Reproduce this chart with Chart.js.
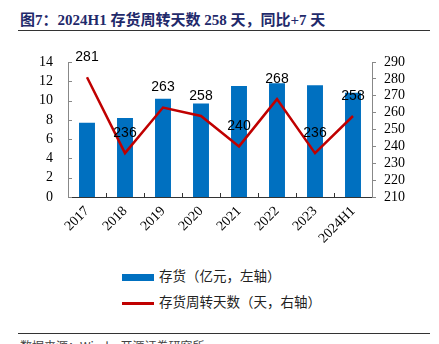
<!DOCTYPE html>
<html>
<head>
<meta charset="utf-8">
<script src="https://cdn.jsdelivr.net/npm/chart.js@4.4.1/dist/chart.umd.min.js"></script>
<style>
  html, body { margin: 0; padding: 0; background: #fff; }
  body { width: 439px; height: 344px; position: relative; overflow: hidden; }
  #title {
    position: absolute; left: 20px; top: 8px;
    font: bold 15px "Liberation Serif", "Noto Sans CJK SC", serif;
    color: #1f2a6b; white-space: nowrap;
  }
  .rule { position: absolute; left: 18px; width: 412px; height: 1px; background: #333; }
  #chartBox { position: absolute; left: 0; top: 35px; width: 439px; height: 230px; }
  .legend { position: absolute; left: 122px; font: 13.5px "Noto Sans CJK SC", sans-serif; color: #222; white-space: nowrap; }
  .legend span.sw { display: inline-block; width: 32px; vertical-align: middle; margin-right: 5px; }
  #source { position: absolute; left: 20px; top: 337px; font: 12px "Noto Sans CJK SC", sans-serif; color: #444; }
</style>
</head>
<body>
<div id="title">图7：2024H1 存货周转天数 258 天，同比+7 天</div>
<div class="rule" style="top:30px"></div>
<div id="chartBox"><canvas id="chart" width="439" height="230"></canvas></div>
<div class="legend" style="top:265px"><span class="sw" style="height:7px;background:#0070C0"></span>存货（亿元，左轴）</div>
<div class="legend" style="top:291px"><span class="sw" style="height:3px;background:#C00000"></span>存货周转天数（天，右轴）</div>
<div class="rule" style="top:333px"></div>
<div id="source">数据来源：Wind，开源证券研究所</div>

<script>
const categories = ['2017', '2018', '2019', '2020', '2021', '2022', '2023', '2024H1'];
const inventory = [7.7, 8.2, 10.2, 9.7, 11.5, 11.8, 11.6, 10.8];
const turnoverDays = [281, 236, 263, 258, 240, 268, 236, 258];
const leftTicks = [0, 2, 4, 6, 8, 10, 12, 14];
const rightTicks = [210, 220, 230, 240, 250, 260, 270, 280, 290];

const serifFont = { family: '"Liberation Serif", "Times New Roman", serif', size: 14 };

// inward tick marks on the left axis and bottom axis, plus labels above the line
const extras = {
  id: 'extras',
  afterDatasetsDraw(chart) {
    const ctx = chart.ctx;
    const area = chart.chartArea;
    const yL = chart.scales.y;
    ctx.save();
    ctx.strokeStyle = '#888';
    ctx.lineWidth = 1;
    leftTicks.forEach(v => {
      const py = Math.round(yL.getPixelForValue(v)) + 0.5;
      ctx.beginPath();
      ctx.moveTo(area.left, py);
      ctx.lineTo(area.left + 4, py);
      ctx.stroke();
    });
    ctx.strokeStyle = '#333';
    const step = (area.right - area.left) / categories.length;
    for (let i = 1; i < categories.length; i++) {
      const px = Math.round(area.left + i * step) + 0.5;
      ctx.beginPath();
      ctx.moveTo(px, area.bottom);
      ctx.lineTo(px, area.bottom - 4);
      ctx.stroke();
    }
    const meta = chart.getDatasetMeta(1);
    ctx.fillStyle = '#000';
    ctx.font = '14px "Liberation Sans", Arial, sans-serif';
    ctx.textAlign = 'center';
    ctx.textBaseline = 'middle';
    meta.data.forEach((pt, i) => {
      ctx.fillText(String(turnoverDays[i]), pt.x, pt.y - 20);
    });
    ctx.restore();
  }
};

new Chart(document.getElementById('chart'), {
  data: {
    labels: categories,
    datasets: [
      {
        type: 'bar',
        label: '存货（亿元，左轴）',
        data: inventory,
        backgroundColor: '#0070C0',
        yAxisID: 'y',
        categoryPercentage: 1,
        barPercentage: 0.42,
        order: 2
      },
      {
        type: 'line',
        label: '存货周转天数（天，右轴）',
        data: turnoverDays,
        borderColor: '#C00000',
        borderWidth: 2.5,
        pointRadius: 0,
        tension: 0,
        yAxisID: 'y1',
        order: 1
      }
    ]
  },
  options: {
    responsive: false,
    animation: false,
    layout: { padding: { top: 27, left: 0, right: 0, bottom: 0 } },
    plugins: { legend: { display: false }, tooltip: { enabled: false } },
    scales: {
      x: {
        grid: { display: false, drawTicks: false },
        border: { display: true, color: '#333', width: 1 },
        ticks: { color: '#000', font: serifFont, minRotation: 45, maxRotation: 45, padding: 6, autoSkip: false },
        afterFit(s) { s.height = 68; }
      },
      y: {
        position: 'left',
        min: 0, max: 14,
        afterBuildTicks(s) { s.ticks = leftTicks.map(v => ({ value: v })); },
        grid: { display: false, drawTicks: false },
        border: { display: true, color: '#888', width: 1 },
        ticks: { color: '#000', font: serifFont, padding: 15, autoSkip: false },
        afterFit(s) { s.width = 68; }
      },
      y1: {
        position: 'right',
        min: 210, max: 290,
        afterBuildTicks(s) { s.ticks = rightTicks.map(v => ({ value: v })); },
        grid: { drawOnChartArea: false, drawTicks: true, tickLength: 4, color: '#888' },
        border: { display: true, color: '#888', width: 1 },
        ticks: { color: '#000', font: serifFont, padding: 8, autoSkip: false },
        afterFit(s) { s.width = 67; }
      }
    }
  },
  plugins: [extras]
});
</script>
</body>
</html>
